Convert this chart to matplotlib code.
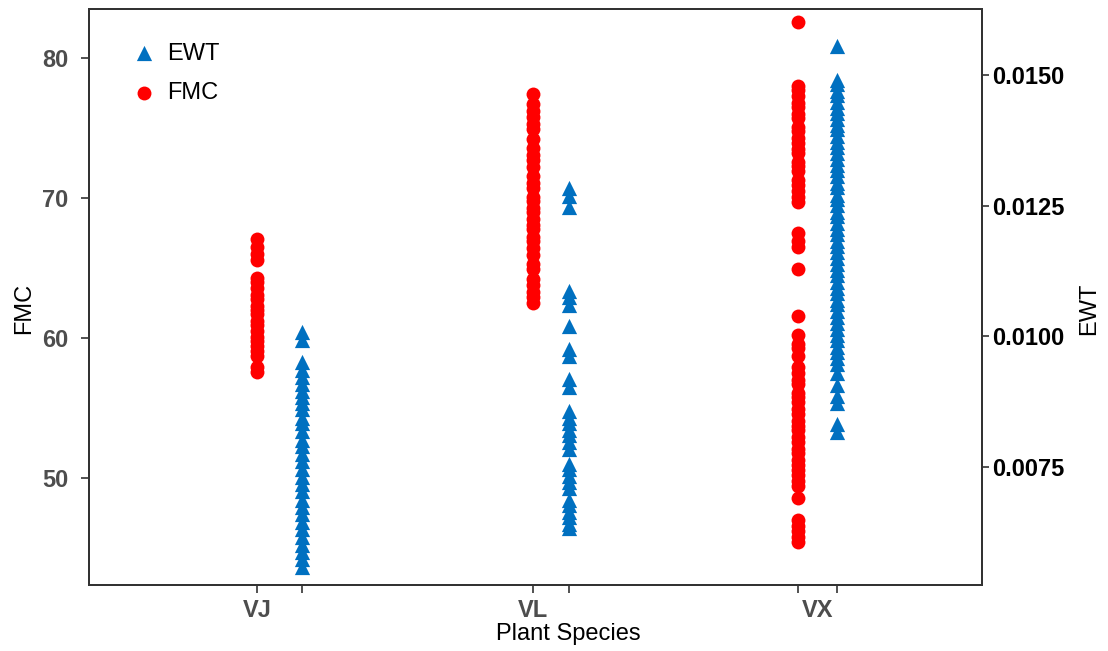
import matplotlib.pyplot as plt
from matplotlib.transforms import blended_transform_factory

species = ['VJ', 'VL', 'VX']

# FMC values (left axis)
fmc_vj = [67.1, 66.5, 66.0, 65.6, 64.3, 64.0, 63.6, 63.1, 62.8, 62.3, 62.0,
          61.7, 61.2, 60.9, 60.5, 60.1, 59.8, 59.4, 59.1, 58.7, 57.9, 57.6]
fmc_vl = [77.4, 76.7, 76.2, 75.8, 75.3, 74.9, 74.2, 73.6, 73.1, 72.7, 72.2,
          71.6, 71.1, 70.7, 70.1, 69.8, 69.3, 69.0, 68.5, 68.1, 67.8, 67.2,
          66.9, 66.4, 65.9, 65.3, 64.9, 64.2, 63.8, 63.3, 62.9, 62.5]
fmc_vx = [82.6, 78.0, 77.7, 77.3, 76.8, 76.5, 76.0, 75.7, 75.1, 74.8, 74.3,
          73.9, 73.5, 73.2, 72.6, 72.3, 71.9, 71.3, 70.9, 70.5, 70.1, 69.7,
          67.5, 66.9, 66.5, 64.9, 61.6, 60.2, 59.6, 59.3, 58.7, 57.9, 57.5,
          57.0, 56.7, 56.1, 55.8, 55.4, 54.9, 54.6, 54.1, 53.7, 53.4, 52.9,
          52.6, 52.1, 51.8, 51.3, 50.9, 50.6, 50.2, 49.8, 49.4, 48.6, 47.0,
          46.6, 46.2, 45.8, 45.4]

# EWT values (right axis)
ewt_vj = [0.01007, 0.00992, 0.00950, 0.00936, 0.00921, 0.00908, 0.00894,
          0.00883, 0.00871, 0.00860, 0.00844, 0.00833, 0.00818, 0.00802,
          0.00789, 0.00774, 0.00760, 0.00745, 0.00730, 0.00716, 0.00703,
          0.00687, 0.00672, 0.00659, 0.00645, 0.00630, 0.00615, 0.00601,
          0.00586, 0.00573, 0.00557]
ewt_vl = [0.01283, 0.01269, 0.01248, 0.01087, 0.01074, 0.01059, 0.01020,
          0.00975, 0.00961, 0.00917, 0.00902, 0.00856, 0.00844, 0.00833,
          0.00821, 0.00810, 0.00798, 0.00783, 0.00756, 0.00745, 0.00733,
          0.00721, 0.00710, 0.00687, 0.00676, 0.00664, 0.00653, 0.00641,
          0.00633]
ewt_vx = [0.01555, 0.01491, 0.01482, 0.01470, 0.01461, 0.01448, 0.01437,
          0.01428, 0.01415, 0.01404, 0.01396, 0.01383, 0.01371, 0.01362,
          0.01350, 0.01339, 0.01327, 0.01318, 0.01306, 0.01294, 0.01285,
          0.01271, 0.01262, 0.01251, 0.01238, 0.01229, 0.01216, 0.01205,
          0.01196, 0.01183, 0.01172, 0.01161, 0.01150, 0.01139, 0.01126,
          0.01117, 0.01104, 0.01093, 0.01082, 0.01070, 0.01061, 0.01048,
          0.01037, 0.01026, 0.01014, 0.01003, 0.00992, 0.00980, 0.00969,
          0.00958, 0.00946, 0.00930, 0.00906, 0.00886, 0.00871, 0.00831,
          0.00816]

# horizontal layout of the two dodged series
red_pos = [0.0, 1.0, 1.96]
blue_pos = [0.163, 1.13, 2.10]
label_pos = [0.0, 1.0, 2.03]

RED = '#ff0000'
BLUE = '#0070c0'
GRAY = '#4d4d4d'
plt.rcParams['font.family'] = ['Liberation Sans', 'DejaVu Sans']

fig = plt.figure(figsize=(11.08, 6.51), dpi=100)
ax = fig.add_axes([0.0803, 0.1014, 0.806, 0.8848])
ax2 = ax.twinx()

for x, vals in zip(red_pos, [fmc_vj, fmc_vl, fmc_vx]):
    ax.scatter([x] * len(vals), vals, s=100, color=RED, marker='o',
               linewidths=0, zorder=3)
for x, vals in zip(blue_pos, [ewt_vj, ewt_vl, ewt_vx]):
    ax2.scatter([x] * len(vals), vals, s=120, color=BLUE, marker='^',
                linewidths=0, zorder=3)

ax.set_xlim(-0.609, 2.627)
ax.set_ylim(42.36, 83.5)
ax2.set_ylim(0.005235, 0.016263)

ax.set_yticks([50, 60, 70, 80])
ax.tick_params(axis='y', labelsize=17, labelcolor=GRAY, length=6, pad=9,
               color='#333333', width=1.2)
for t in ax.get_yticklabels():
    t.set_fontweight('bold')

ax2.set_yticks([0.0075, 0.0100, 0.0125, 0.0150])
ax2.set_yticklabels(['0.0075', '0.0100', '0.0125', '0.0150'])
ax2.tick_params(axis='y', labelsize=17, labelcolor='black', length=5, pad=2,
                color='#333333', width=1.2)
for t in ax2.get_yticklabels():
    t.set_fontweight('bold')

# tick marks at both dodged positions, category names as text below
ax.set_xticks(sorted(red_pos + blue_pos))
ax.set_xticklabels([''] * 6)
ax.tick_params(axis='x', length=6, color='#333333', width=1.2)
trans = blended_transform_factory(ax.transData, ax.transAxes)
for x, name in zip(label_pos, species):
    ax.text(x, -0.045, name, transform=trans, ha='center', va='center',
            fontsize=17, fontweight='bold', color=GRAY)

for a in (ax, ax2):
    for sp in a.spines.values():
        sp.set_color('#333333')
        sp.set_linewidth(1.4)

ax.set_ylabel('FMC', fontsize=17)
ax.yaxis.set_label_coords(-0.060, 0.48)
ax2.set_ylabel('EWT', fontsize=17)
ax2.yaxis.set_label_coords(1.108, 0.48)
ax.set_xlabel('Plant Species', fontsize=17)
ax.xaxis.set_label_coords(0.537, -0.066)

h1 = ax2.scatter([], [], s=120, color=BLUE, marker='^', linewidths=0)
h2 = ax.scatter([], [], s=100, color=RED, marker='o', linewidths=0)
ax.legend([h1, h2], ['EWT', 'FMC'], loc='upper left', frameon=False,
          fontsize=17, bbox_to_anchor=(0.035, 0.962), borderpad=0,
          handlelength=1.0, handletextpad=0.5, labelspacing=0.75)
ax.set_zorder(ax2.get_zorder() + 1)
ax.patch.set_visible(False)

fig.savefig('out.png', dpi=100)
